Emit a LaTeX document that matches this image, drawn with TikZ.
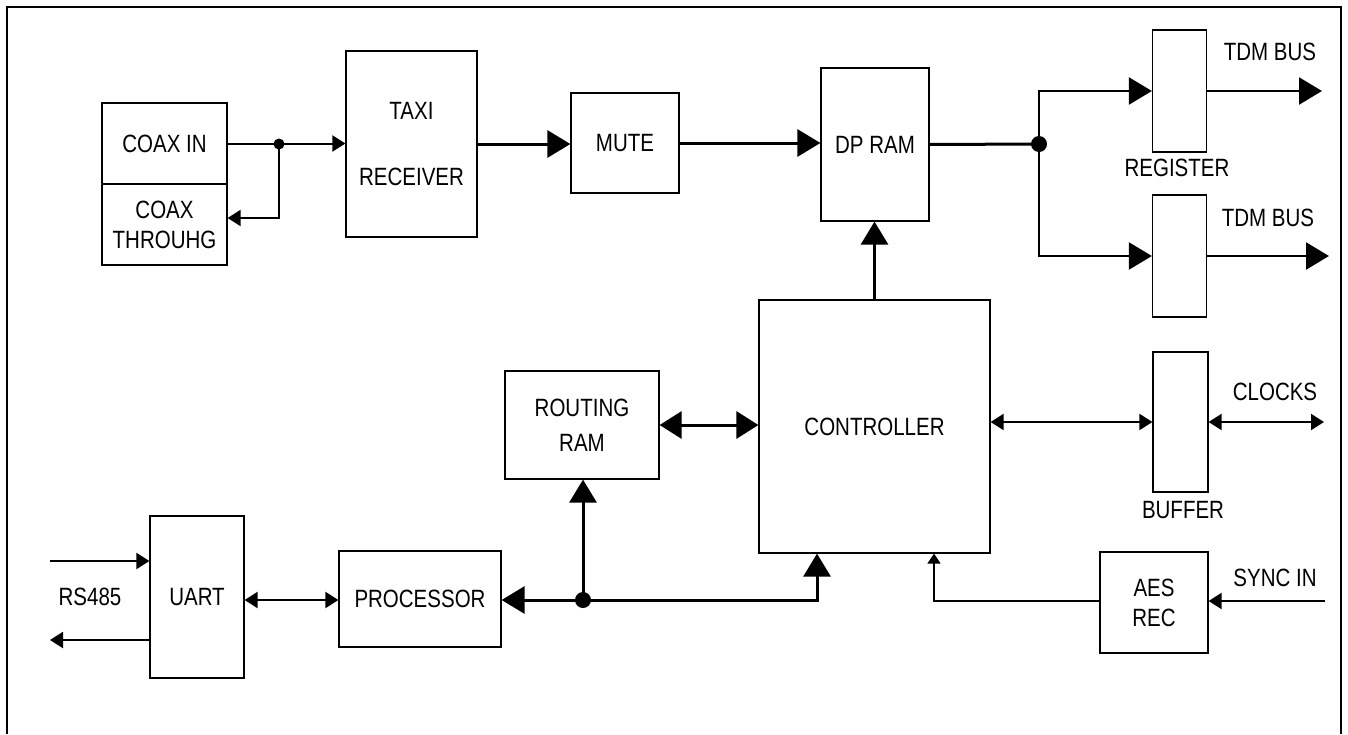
\documentclass[tikz,border=0pt]{standalone}
\usepackage{fontspec}
\setmainfont{Liberation Sans}[FakeStretch=0.82]
\usetikzlibrary{positioning, arrows.meta}

\begin{document}
\begin{tikzpicture}[x=1pt,y=-1pt,
  blk/.style={draw, line width=1.2pt, align=center, inner sep=0pt,
              font=\fontsize{25}{30}\selectfont},
  lbl/.style={font=\fontsize{25}{30}\selectfont, inner sep=0pt},
  bus/.style={line width=3pt, -{Triangle[length=23pt,width=27pt]}},
  busdbl/.style={line width=3pt, {Triangle[length=22pt,width=27pt]}-{Triangle[length=22pt,width=27pt]}},
  busout/.style={line width=2.3pt, -{Triangle[length=23pt,width=27pt]}},
  sig/.style={line width=2pt, -{Triangle[length=13pt,width=16pt]}},
  sigdbl/.style={line width=2pt, {Triangle[length=13pt,width=16pt]}-{Triangle[length=13pt,width=16pt]}},
  sigsmall/.style={line width=1.6pt, -{Triangle[length=10pt,width=13pt]}}]

  \useasboundingbox (0,0) rectangle (1348,734);

  %% Frame
  \draw[line width=2pt] (7,734) -- (7,7) -- (1341,7) -- (1341,734);

  %% Input side
  \node[blk, minimum width=125pt, minimum height=81pt] (coaxin) at (164.5,143.5) {COAX IN};
  \node[blk, minimum width=125pt, minimum height=81pt] (coaxthru) at (164.5,224.5) {COAX\\THROUHG};
  \node[blk, minimum width=131pt, minimum height=186pt] (taxi) at (411.5,144) {TAXI\\[36pt]RECEIVER};
  \node[blk, minimum width=108pt, minimum height=100pt] (mute) at (625,143) {MUTE};
  \node[blk, minimum width=108pt, minimum height=153pt] (dpram) at (875,144.5) {DP RAM};

  %% Output registers
  \node[blk, minimum width=54pt, minimum height=122pt] (reg1) at (1179.5,91) {};
  \node[blk, minimum width=54pt, minimum height=122pt] (reg2) at (1179.5,256) {};
  \node[lbl] (regtxt) at (1177,168) {REGISTER};
  \node[lbl] (tdmtxt1) at (1270,52) {TDM BUS};
  \node[lbl] (tdmtxt2) at (1268,218) {TDM BUS};

  %% Control part
  \node[blk, minimum width=231pt, minimum height=253pt] (ctrl) at (874.5,426.5) {CONTROLLER};
  \node[blk, minimum width=154pt, minimum height=108pt] (routing) at (582,425) {ROUTING\\[5pt]RAM};
  \node[blk, minimum width=55pt, minimum height=140pt] (buf) at (1180.5,422) {};
  \node[lbl] (buftxt) at (1183,510) {BUFFER};
  \node[lbl] (clktxt) at (1275,392) {CLOCKS};
  \node[blk, minimum width=108pt, minimum height=101pt] (aes) at (1154,602.5) {AES\\REC};
  \node[lbl] (synctxt) at (1275,578) {SYNC IN};
  \node[blk, minimum width=94pt, minimum height=162pt] (uart) at (197,597) {UART};
  \node[blk, minimum width=162pt, minimum height=96pt] (proc) at (420,599) {PROCESSOR};
  \node[lbl] (rstxt) at (90,597) {RS485};

  %% Junctions and free ends
  \coordinate (j1) at (279,144);
  \coordinate (j2) at (1039,144);
  \coordinate (j3) at (583,600);
  \coordinate (tdm1) at (1322,91);
  \coordinate (tdm2) at (1329,256);
  \coordinate (clk) at (1324,422);
  \coordinate (syncin) at (1325,601);
  \coordinate (rsin) at (50,561);
  \coordinate (rsout) at (50,640);

  %% Arrows
  \draw[sig] (coaxin.east) -- (coaxin.east -| taxi.west);
  \draw[sig] (j1) |- ([yshift=6.5pt]coaxthru.east);
  \fill (j1) circle (5.5pt);
  \draw[bus] (taxi.east) -- (taxi.east -| mute.west);
  \draw[bus] (mute.east) -- (mute.east -| dpram.west);
  \draw[line width=3pt] (dpram.east) -- (j2);
  \draw[busout] (j2) |- (reg1.west);
  \draw[busout] (j2) |- (reg2.west);
  \fill (j2) circle (8pt);
  \draw[busout] (reg1.east) -- (tdm1);
  \draw[busout] (reg2.east) -- (tdm2);
  \draw[bus] (ctrl.north) -- (ctrl.north |- dpram.south);
  \draw[busdbl] (routing.east) -- (routing.east -| ctrl.west);
  \draw[bus] (j3) -- (j3 -| proc.east);
  \draw[bus] (j3) -- (j3 |- routing.south);
  \draw[bus] (j3) -| ([xshift=-57.5pt]ctrl.south);
  \fill (j3) circle (8pt);
  \draw[sigsmall] ([yshift=1.5pt]aes.west) -| ([xshift=59.5pt]ctrl.south);
  \draw[sigdbl] (ctrl.east |- buf.west) -- (buf.west);
  \draw[sigdbl] (buf.east) -- (clk);
  \draw[sig] (syncin) -- (syncin -| aes.east);
  \draw[sig] (rsin) -- (rsin -| uart.west);
  \draw[sig] (rsout -| uart.west) -- (rsout);
  \draw[sigdbl] (uart.east |- j3) -- (proc.west |- j3);
\end{tikzpicture}
\end{document}
